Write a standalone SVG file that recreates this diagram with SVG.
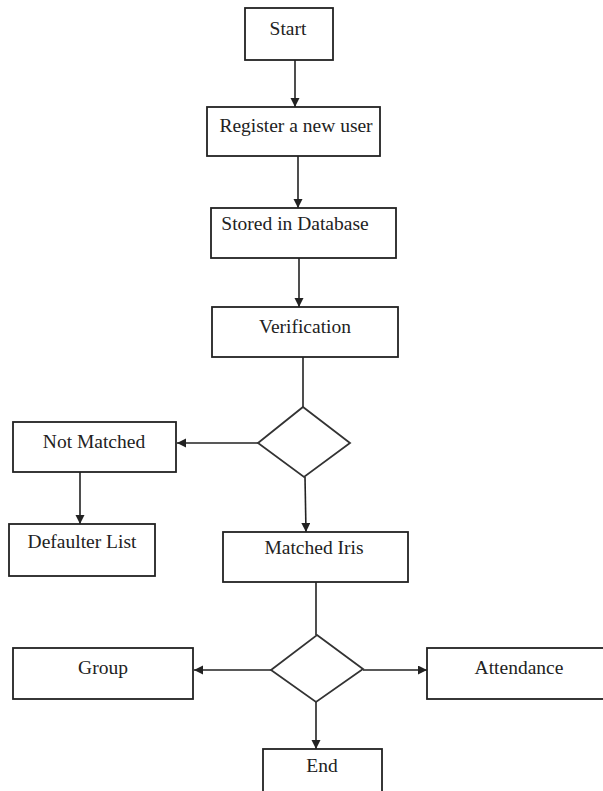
<svg xmlns="http://www.w3.org/2000/svg" width="603" height="791" viewBox="0 0 603 791">
  <style>
    .box { fill: #ffffff; stroke: #222222; stroke-width: 1.8; }
    .dia { fill: #ffffff; stroke: #333333; stroke-width: 1.8; }
    .lbl { font-family: "Liberation Serif", "Times New Roman", serif; font-size: 19.5px; fill: #222222; text-anchor: middle; }
    .edge { fill: none; stroke: #222222; stroke-width: 1.6; }
  </style>
  <defs>
    <marker id="arrow" markerUnits="userSpaceOnUse" markerWidth="10" markerHeight="10" refX="9" refY="4.5" orient="auto">
      <path d="M0,0 L9,4.5 L0,9 z" fill="#222222"/>
    </marker>
  </defs>
  <rect width="603" height="791" fill="#ffffff"/>

  <g id="connectors">
    <line class="edge" x1="295" y1="60" x2="295" y2="107" marker-end="url(#arrow)"/>
    <line class="edge" x1="298" y1="156" x2="298" y2="208" marker-end="url(#arrow)"/>
    <line class="edge" x1="299" y1="258" x2="299" y2="307" marker-end="url(#arrow)"/>
    <line class="edge" x1="303" y1="357" x2="303" y2="407"/>
    <line class="edge" x1="258" y1="443" x2="177" y2="443" marker-end="url(#arrow)"/>
    <line class="edge" x1="80" y1="472" x2="80" y2="524" marker-end="url(#arrow)"/>
    <line class="edge" x1="305" y1="477" x2="306" y2="532" marker-end="url(#arrow)"/>
    <line class="edge" x1="316" y1="582" x2="316" y2="635"/>
    <line class="edge" x1="271" y1="670" x2="194" y2="670" marker-end="url(#arrow)"/>
    <line class="edge" x1="363" y1="670" x2="427" y2="670" marker-end="url(#arrow)"/>
    <line class="edge" x1="316" y1="702" x2="316" y2="749" marker-end="url(#arrow)"/>
  </g>

  <g id="start">
    <rect class="box" x="245" y="8" width="88" height="52"/>
    <text class="lbl" x="288" y="35">Start</text>
  </g>
  <g id="register">
    <rect class="box" x="207" y="107" width="173" height="49"/>
    <text class="lbl" x="296" y="132">Register a new user</text>
  </g>
  <g id="stored">
    <rect class="box" x="211" y="208" width="185" height="50"/>
    <text class="lbl" x="295" y="230">Stored in Database</text>
  </g>
  <g id="verification">
    <rect class="box" x="212" y="307" width="186" height="50"/>
    <text class="lbl" x="305" y="333">Verification</text>
  </g>
  <g id="decision1">
    <polygon class="dia" points="303,407 350,443 304,477 258,443"/>
  </g>
  <g id="not-matched">
    <rect class="box" x="13" y="422" width="163" height="50"/>
    <text class="lbl" x="94" y="448">Not Matched</text>
  </g>
  <g id="defaulter">
    <rect class="box" x="9" y="524" width="146" height="52"/>
    <text class="lbl" x="82" y="548">Defaulter List</text>
  </g>
  <g id="matched-iris">
    <rect class="box" x="223" y="532" width="185" height="50"/>
    <text class="lbl" x="314" y="554">Matched Iris</text>
  </g>
  <g id="decision2">
    <polygon class="dia" points="317,635 363,669 316,702 271,670"/>
  </g>
  <g id="group">
    <rect class="box" x="13" y="648" width="180" height="51"/>
    <text class="lbl" x="103" y="674">Group</text>
  </g>
  <g id="attendance">
    <rect class="box" x="427" y="648" width="180" height="51"/>
    <text class="lbl" x="519" y="674">Attendance</text>
  </g>
  <g id="end">
    <rect class="box" x="263" y="749" width="119" height="52"/>
    <text class="lbl" x="322" y="772">End</text>
  </g>
</svg>
